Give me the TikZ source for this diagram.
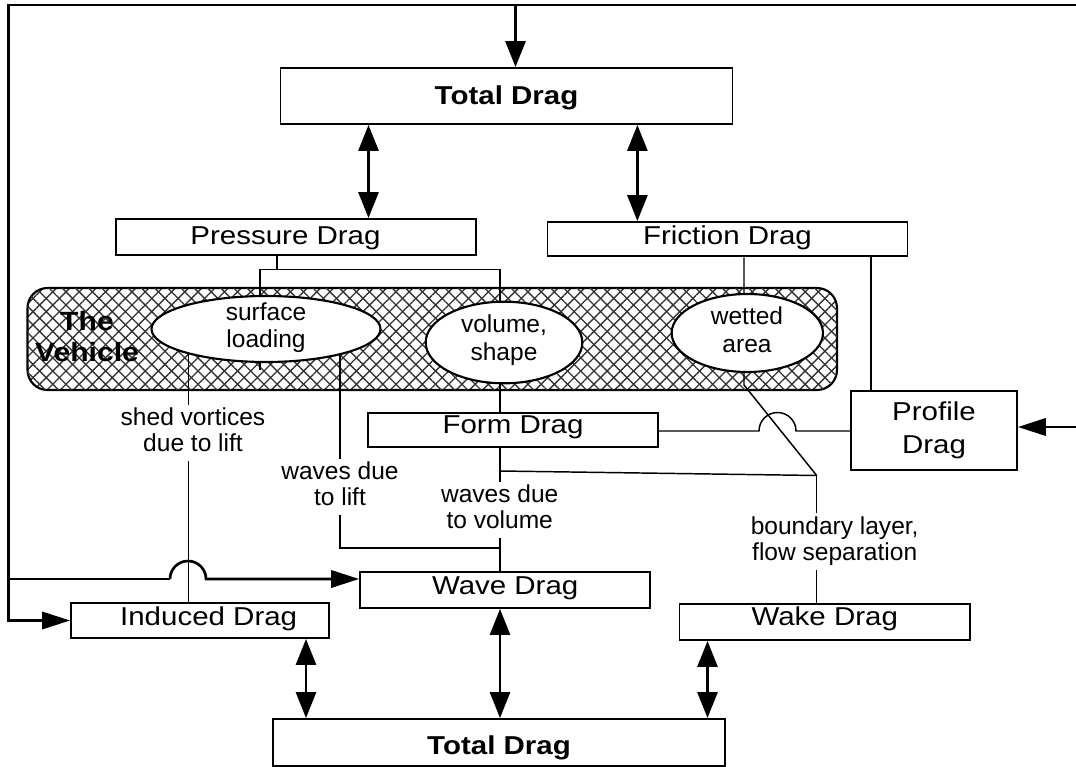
\documentclass[tikz,border=0pt]{standalone}
\usepackage{fontspec}
\setmainfont{Liberation Sans}
\newfontfamily\bxf[FakeStretch=1.14]{Liberation Sans}
\usetikzlibrary{arrows.meta,shapes.geometric,patterns.meta}
\pgfdeclarelayer{hatchl}
\pgfdeclarelayer{linel}
\pgfsetlayers{hatchl,linel,main}
\begin{document}
\begin{tikzpicture}[x=0.75pt,y=-0.75pt,
  box/.style={draw,line width=1.4pt,fill=white,inner sep=0pt,font=\bxf\fontsize{19.4}{24.75}\selectfont},
  ell/.style={ellipse,draw,line width=1.6pt,fill=white,inner sep=0pt},
  etxt/.style={align=center,inner sep=0pt,font=\fontsize{18.4}{20.6}\selectfont},
  lbl/.style={align=center,inner xsep=2pt,inner ysep=2pt,anchor=north,font=\fontsize{18.4}{19.5}\selectfont},
  conn/.style={line width=1.1pt},
  dbl/.style={line width=2.1pt,{Triangle[length=19.5pt,width=15pt]}-{Triangle[length=19.5pt,width=15pt]}},
  harr/.style={-{Triangle[length=21pt,width=13pt]}},
  varr/.style={-{Triangle[length=19.5pt,width=15pt]}},
]
\useasboundingbox (0,0) rectangle (1076,767);

% boxes
\node[box,minimum width=339pt,text height=27.75pt,text depth=14.25pt] (td1) at (506.5,96) {\bfseries Total Drag};
\node[box,minimum width=270pt,text height=19.1pt,text depth=7.9pt] (pres) at (296,237) {Pressure Drag\hspace*{15.75pt}};
\node[box,minimum width=270pt,text height=16.8pt,text depth=9pt] (fric) at (727.5,239.2) {Friction Drag};
\node[box,minimum width=217.5pt,text height=15pt,text depth=10.5pt] (form) at (513,430) {Form Drag};
\node[box,minimum width=217.8pt,text height=16.5pt,text depth=10.5pt] (wave) at (505.2,590) {Wave Drag};
\node[box,minimum width=193.5pt,text height=16.5pt,text depth=9.75pt] (ind) at (200,620.5) {\hspace*{13pt}Induced Drag};
\node[box,minimum width=217.9pt,text height=15.75pt,text depth=11.25pt] (wake) at (824.75,622) {Wake Drag};
\node[box,minimum width=339pt,text height=26.25pt,text depth=9pt] (td2) at (499,742.5) {\bfseries Total Drag};
\node[box,minimum width=124.5pt,minimum height=59.5pt,align=center] (prof) at (934,430.6) {Profile\\Drag};

% vehicle
\begin{pgfonlayer}{hatchl}
\node[draw,line width=1.6pt,rounded corners=15pt,minimum width=607.1pt,minimum height=76.5pt,
  preaction={fill=white},
  pattern={Lines[angle=45,distance=7pt,line width=1pt]},pattern color=black!80,
  postaction={pattern={Lines[angle=-45,distance=7pt,line width=1pt]},pattern color=black!80}] (veh) at (432.25,339) {};
\end{pgfonlayer}
\node[font=\bxf\bfseries\fontsize{19.8}{23.8}\selectfont,align=center,inner sep=0pt] (vtxt) at (87,336.5) {The\\Vehicle};

% ellipses
\node[ell,minimum width=171.75pt,minimum height=49.5pt] (surf) at (266,329) {};
\node[ell,minimum width=117.5pt,minimum height=61.2pt] (vol) at (504,342.5) {};
\node[ell,minimum width=113.5pt,minimum height=58.5pt] (wet) at (747.3,333) {};
\node[etxt] (surft) at (266,327.5) {surface\\loading};
\node[etxt] (volt) at (504,340) {volume,\\shape};
\node[etxt] (wett) at (747,329.5) {wetted\\area};

% labels
\node[lbl] (shed) at (193,405) {shed vortices\\due to lift\rule[-5pt]{0pt}{5pt}};
\node[lbl] (wlift) at (340,459) {waves due\\to lift\rule[-5pt]{0pt}{5pt}};
\node[lbl] (wvol) at (499.7,481.7) {waves due\\to volume\rule[-5pt]{0pt}{5pt}};
\node[lbl] (blab) at (834.7,513.3) {boundary layer,\\flow separation\rule[-5pt]{0pt}{5pt}};

% coordinates
\coordinate (tl) at (8.5,5.2);
\coordinate (tr) at (1076,5.2);
\coordinate (ta) at (515.5,5.2);
\coordinate (xa) at (368.5,0);
\coordinate (xb) at (637.4,0);
\coordinate (xc) at (306,0);
\coordinate (xe) at (707.5,0);
\coordinate (xf) at (871,0);
\coordinate (xs) at (188.3,0);
\coordinate (bj) at (277,269.6);
\coordinate (bl) at (260,269.6);
\coordinate (br) at (500,269.6);
\coordinate (sstub) at (260,369.5);
\coordinate (wk) at (744,385);
\coordinate (bj2) at (816.7,475.5);
\coordinate (fj) at (500,471);
\coordinate (wl1) at (340,548);
\coordinate (jl) at (759,431);
\coordinate (jl2) at (170,579);
\coordinate (pr) at (1076,427);

\begin{pgfonlayer}{linel}
% feedback loop
\draw[line width=1.9pt,harr] (tr) -- (tl) |- (ind.west);
\draw[line width=2.1pt,varr] (ta) -- (ta |- td1.north);
\draw[line width=1.3pt] (tl |- jl2) -- (jl2);
\draw[line width=2pt,harr] (jl2) arc[start angle=180,end angle=360,radius=18] -- (wave.west |- jl2);
\draw[line width=2pt,harr] (pr) -- (prof.east |- pr);

% double arrows
\draw[dbl] (td1.south -| xa) -- (pres.north -| xa);
\draw[dbl] (td1.south -| xb) -- (fric.north -| xb);
\draw[dbl] (ind.south -| xc) -- (td2.north -| xc);
\draw[dbl] (wave.south -| br) -- (td2.north -| br);
\draw[dbl] (wake.south -| xe) -- (td2.north -| xe);

% pressure bracket
\draw[conn] (pres.south -| bj) -- (bj);
\draw[conn] (sstub) -- (bl) -- (br) -- (form.north -| br);

% friction
\draw[conn] (fric.south -| wk) -- (wk) -- (bj2);
\draw[conn] (fric.south -| xf) -- (prof.north -| xf);

% form to profile with jump
\draw[conn] (form.east |- jl) -- (jl) arc[start angle=180,end angle=360,radius=18.5] -- (prof.west |- jl);

% induced
\draw[conn] (surf.center -| xs) -- (shed.north -| xs);
\draw[conn] (shed.south -| xs) -- (ind.north -| xs);

% waves due to lift
\draw[conn] (surf.center -| wl1) -- (wlift.north -| wl1);
\draw[conn] (wlift.south -| wl1) -- (wl1) -- (wl1 -| br);

% waves due to volume
\draw[conn] (form.south -| br) -- (wvol.north -| br);
\draw[conn] (wvol.south -| br) -- (wave.north -| br);

% boundary layer
\draw[conn] (fj) -- (bj2);
\draw[conn] (bj2) -- (blab.north -| bj2);
\draw[conn] (blab.south -| bj2) -- (wake.north -| bj2);
\end{pgfonlayer}
\end{tikzpicture}
\end{document}
